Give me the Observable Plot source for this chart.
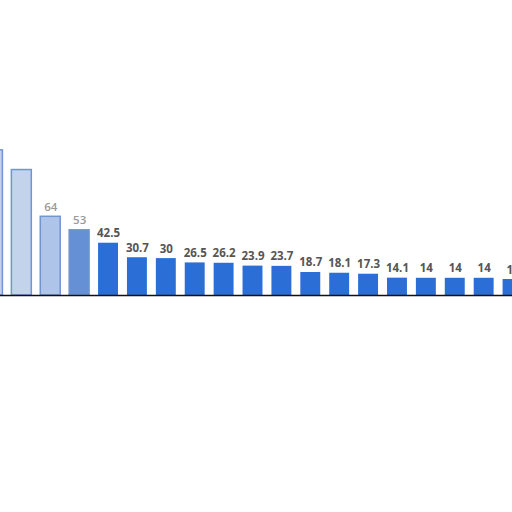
<!DOCTYPE html>
<html>
<head>
<meta charset="utf-8">
<script src="https://cdn.jsdelivr.net/npm/d3@7"></script>
<script src="https://cdn.jsdelivr.net/npm/@observablehq/plot@0.6"></script>
<style>
  html, body { margin: 0; padding: 0; background: #fff; overflow: hidden; }
  svg { overflow: hidden; }
</style>
</head>
<body>
<div id="chart"></div>
<script>
const categories = ["c1","c2","c3","c4","c5","c6","c7","c8","c9","c10","c11","c12","c13","c14","c15","c16","c17","c18","c19"];
const values = [118, 102, 64, 53, 42.5, 30.7, 30, 26.5, 26.2, 23.9, 23.7, 18.7, 18.1, 17.3, 14.1, 14, 14, 14, 13];
const labels = ["", "", "64", "53", "42.5", "30.7", "30", "26.5", "26.2", "23.9", "23.7", "18.7", "18.1", "17.3", "14.1", "14", "14", "14", "13"];

const data = categories.map((c, i) => ({cat: c, value: values[i], label: labels[i], idx: i}));
const faded = d => d.idx < 4;

const chart = Plot.plot({
  width: 512,
  height: 512,
  marginTop: 0, marginBottom: 0, marginLeft: 0, marginRight: 0,
  style: {background: "#fff", fontFamily: "'Open Sans', 'DejaVu Sans', sans-serif"},
  x: {type: "band", domain: categories, range: [-22, 527], paddingInner: 0.31, paddingOuter: 0.155, round: false, axis: null},
  y: {domain: [0, 100], range: [295, 172], axis: null},
  marks: [
    Plot.barY(data, {
      x: "cat", y: "value",
      fill: d => d.idx < 2 ? "#c3d3ec" : d.idx === 2 ? "#aec4e8" : d.idx === 3 ? "#6690d6" : "#2b6fd6",
      stroke: d => faded(d) ? "#6f95d2" : "none",
      strokeWidth: 1.5
    }),
    Plot.text(data.filter(d => d.label !== "" && faded(d)), {
      x: "cat", y: "value", text: "label",
      dy: -6, lineAnchor: "bottom",
      fontSize: 11.5, fontWeight: "600",
      fill: "#9a9a9a"
    }),
    Plot.text(data.filter(d => d.label !== "" && !faded(d)), {
      x: "cat", y: "value", text: "label",
      dy: -6, lineAnchor: "bottom",
      fontSize: 11.5, fontWeight: "bold",
      fill: "#555555"
    }),
    Plot.ruleY([0], {stroke: "#111", strokeWidth: 1.5})
  ]
});
document.getElementById("chart").appendChild(chart);
</script>
</body>
</html>
